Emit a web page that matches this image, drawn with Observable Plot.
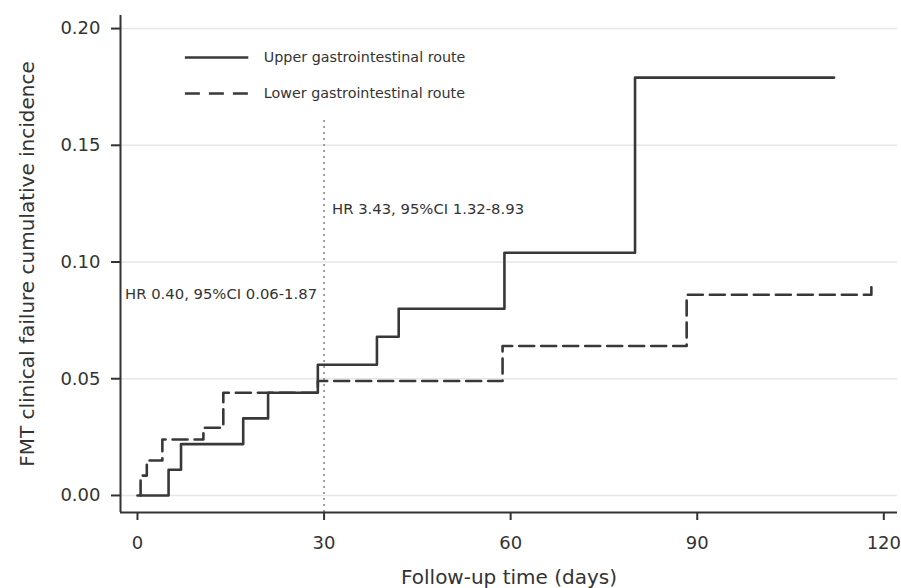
<!DOCTYPE html>
<html>
<head>
<meta charset="utf-8">
<script src="https://cdn.jsdelivr.net/npm/d3@7"></script>
<script src="https://cdn.jsdelivr.net/npm/@observablehq/plot@0.6"></script>
<style>
  html, body { margin: 0; padding: 0; background: #fff; }
  #chart svg { display: block; }
</style>
</head>
<body>
<div id="chart"></div>
<script>
// ---- data ----
const upperDays = [0, 5, 7, 17, 21, 29, 38.5, 42, 59, 80, 112];
const upperIncidence = [0, 0.011, 0.022, 0.033, 0.044, 0.056, 0.068, 0.080, 0.104, 0.179, 0.179];

const lowerDays = [0.5, 0.5, 1.5, 4, 10.6, 13.8, 29, 58.7, 88.3, 118];
const lowerIncidence = [0, 0.0085, 0.015, 0.024, 0.029, 0.044, 0.049, 0.064, 0.086, 0.0895];

const seriesNames = ["Upper gastrointestinal route", "Lower gastrointestinal route"];
const xTicks = [0, 30, 60, 90, 120];
const yTicks = [0, 0.05, 0.10, 0.15, 0.20];
const cutoffDay = [30];
const hrLabels = ["HR 0.40, 95%CI 0.06-1.87", "HR 3.43, 95%CI 1.32-8.93"];
const hrLabelY = [0.0863, 0.1226];

// ---- build tables ----
const upper = upperDays.map((d, i) => ({day: d, inc: upperIncidence[i]}));
const lower = lowerDays.map((d, i) => ({day: d, inc: lowerIncidence[i]}));

const xDomain = [-2.73, 122.2];
const yDomain = [-0.0073, 0.2056];
const ink = "#333";

// legend layout (in data units)
const legX1 = 7.7, legX2 = 17.9, legY = [0.1876, 0.1722];

const chart = Plot.plot({
  width: 901,
  height: 588,
  marginLeft: 120,
  marginRight: 4,
  marginTop: 15,
  marginBottom: 76,
  style: {fontFamily: "DejaVu Sans", fontSize: "18px", color: ink, background: "#fff"},
  x: {domain: xDomain},
  y: {domain: yDomain},
  marks: [
    Plot.gridY(yTicks, {stroke: "#e6e6e6", strokeOpacity: 1, strokeWidth: 1.5}),
    // vertical dotted cut-off
    Plot.ruleX(cutoffDay, {y1: yDomain[0], y2: 0.161, stroke: "#8a8a8a", strokeWidth: 1.6, strokeDasharray: "2,4"}),
    // axes lines
    Plot.ruleX([xDomain[0]], {stroke: ink, strokeWidth: 2}),
    Plot.ruleY([yDomain[0]], {stroke: ink, strokeWidth: 2}),
    Plot.axisX(xTicks, {tickSize: 8, tickPadding: 16, label: null, color: ink, strokeWidth: 2, fontSize: 18}),
    Plot.axisY(yTicks, {tickSize: 9, tickPadding: 11, label: null, color: ink, strokeWidth: 2, fontSize: 18, tickFormat: d3.format(".2f")}),
    // axis titles
    Plot.text(["Follow-up time (days)"], {frameAnchor: "bottom", dy: 65, lineAnchor: "middle", textAnchor: "middle", fontSize: 20, fill: ink}),
    Plot.text(["FMT clinical failure cumulative incidence"], {frameAnchor: "left", dx: -93, rotate: -90, textAnchor: "middle", lineAnchor: "middle", fontSize: 20, fill: ink}),
    // step curves
    Plot.line(upper, {x: "day", y: "inc", curve: "step-after", stroke: "#383838", strokeWidth: 2.6}),
    Plot.line(lower, {x: "day", y: "inc", curve: "step-after", stroke: "#383838", strokeWidth: 2.6, strokeDasharray: "15,7"}),
    // HR annotations
    Plot.text([hrLabels[0]], {x: cutoffDay[0], y: hrLabelY[0], textAnchor: "end", dx: -7, fontSize: 14.8, fill: ink}),
    Plot.text([hrLabels[1]], {x: cutoffDay[0], y: hrLabelY[1], textAnchor: "start", dx: 8, fontSize: 14.8, fill: ink}),
    // legend
    Plot.ruleY([legY[0]], {x1: legX1, x2: legX2, stroke: "#383838", strokeWidth: 2.6}),
    Plot.ruleY([legY[1]], {x1: legX1, x2: legX2, stroke: "#383838", strokeWidth: 2.6, strokeDasharray: "15,9"}),
    Plot.text(seriesNames, {x: legX2, y: (d, i) => legY[i], textAnchor: "start", dx: 15, fontSize: 14.3, fill: ink})
  ]
});

document.getElementById("chart").appendChild(chart);
</script>
</body>
</html>
